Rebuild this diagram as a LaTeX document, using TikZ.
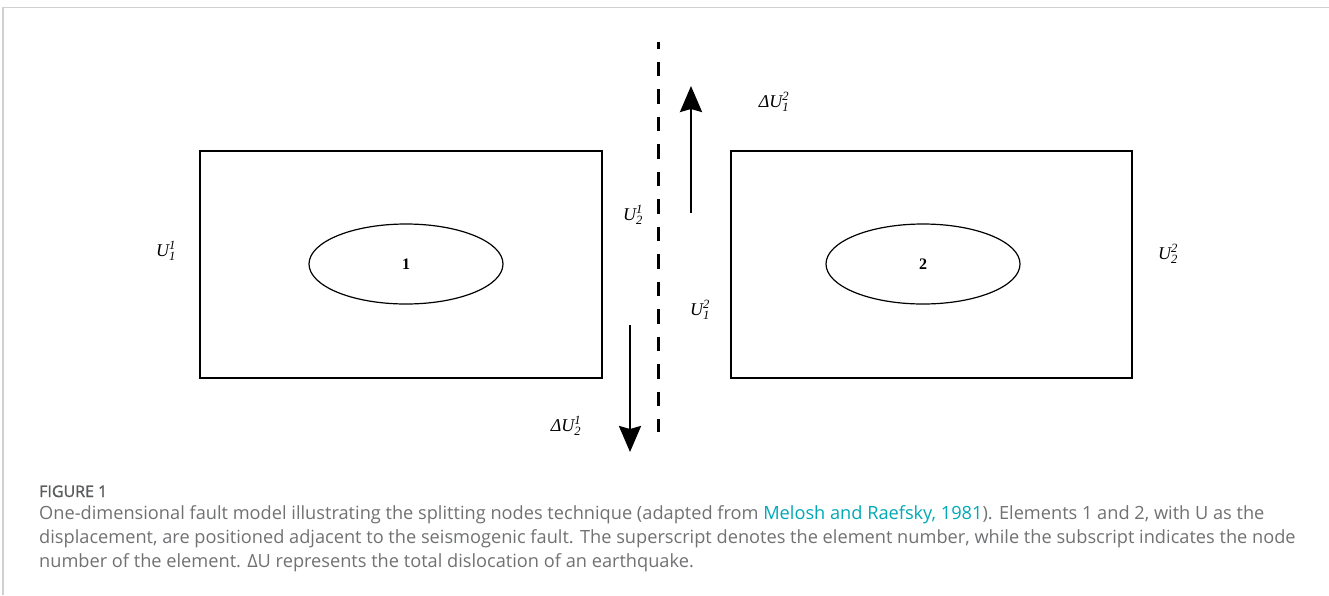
\documentclass[tikz,border=0pt]{standalone}
\usepackage{amsmath}
\usepackage{fontspec}
\setmainfont{Liberation Serif}
\newfontfamily\capfont{Open Sans}
\newfontfamily\capfontb[FakeBold=1.3]{Open Sans}
\usetikzlibrary{arrows.meta,shapes.geometric}
\definecolor{capgray}{HTML}{707173}
\definecolor{figgray}{HTML}{5A5B5D}
\definecolor{linkteal}{HTML}{00A9B7}
\definecolor{framegray}{HTML}{D0D0D0}
\begin{document}
\begin{tikzpicture}[x=1pt,y=-1pt,
  box/.style={draw, line width=1.2pt, inner sep=0pt},
  elli/.style={draw, ellipse, line width=1.2pt, inner sep=0pt, minimum width=194pt, minimum height=80pt, font=\fontsize{16}{16}\selectfont\bfseries},
  lab/.style={font=\fontsize{18}{18}\selectfont, inner sep=0pt},
  bigarrow/.style={line width=2.6pt, -{Stealth[length=26pt,width=22pt,inset=3pt]}},
  fault/.style={line width=3pt, dash pattern=on 14.5pt off 13pt, dash phase=8pt},
  captext/.style={font=\capfont\fontsize{18.2}{22}\selectfont, text=capgray, anchor=base west, inner sep=0pt}]
\useasboundingbox (0,0) rectangle (1329,595);
% frame
\draw[framegray, line width=1.5pt] (3,595) -- (3,7.5) -- (1329,7.5);
% elements
\node[box, minimum width=402pt, minimum height=227pt] (r1) at (401,264.5) {};
\node[box, minimum width=401pt, minimum height=227pt] (r2) at (931.5,264.5) {};
\node[elli] (e1) at (406,264) {1};
\node[elli] (e2) at (923,264) {2};
% fault
\coordinate (ft) at (658,42);
\coordinate (fb) at (658,432);
\draw[fault] (ft) -- (fb);
% arrows
\coordinate (a1s) at (691,213);
\coordinate (a1e) at (691,86);
\draw[bigarrow] (a1s) -- (a1e);
\coordinate (a2s) at (630,325);
\coordinate (a2e) at (630,452);
\draw[bigarrow] (a2s) -- (a2e);
% labels
\node[lab] (u11) at (166,251) {$\textit{U}^{\textit{1}}_{\textit{1}}$};
\node[lab] (u12) at (633,215) {$\textit{U}^{\textit{1}}_{\textit{2}}$};
\node[lab] (u21) at (700,310) {$\textit{U}^{\textit{2}}_{\textit{1}}$};
\node[lab] (u22) at (1168,254) {$\textit{U}^{\textit{2}}_{\textit{2}}$};
\node[lab] (du21) at (774,102) {$\textit{ΔU}^{\textit{2}}_{\textit{1}}$};
\node[lab] (du12) at (566,426) {$\textit{ΔU}^{\textit{1}}_{\textit{2}}$};
% caption
\node[captext, text=figgray, font=\capfontb\fontsize{16}{20}\selectfont] (fig) at (39,497) {FIGURE 1};
\node[captext] (c1) at (39,519) {One-dimensional fault model illustrating the splitting nodes technique (adapted from \textcolor{linkteal}{Melosh and Raefsky, 1981}). Elements 1 and 2, with U as the};
\node[captext] (c2) at (39,543) {displacement, are positioned adjacent to the seismogenic fault. The superscript denotes the element number, while the subscript indicates the node};
\node[captext] (c3) at (39,567) {number of the element. ΔU represents the total dislocation of an earthquake.};
\end{tikzpicture}
\end{document}
